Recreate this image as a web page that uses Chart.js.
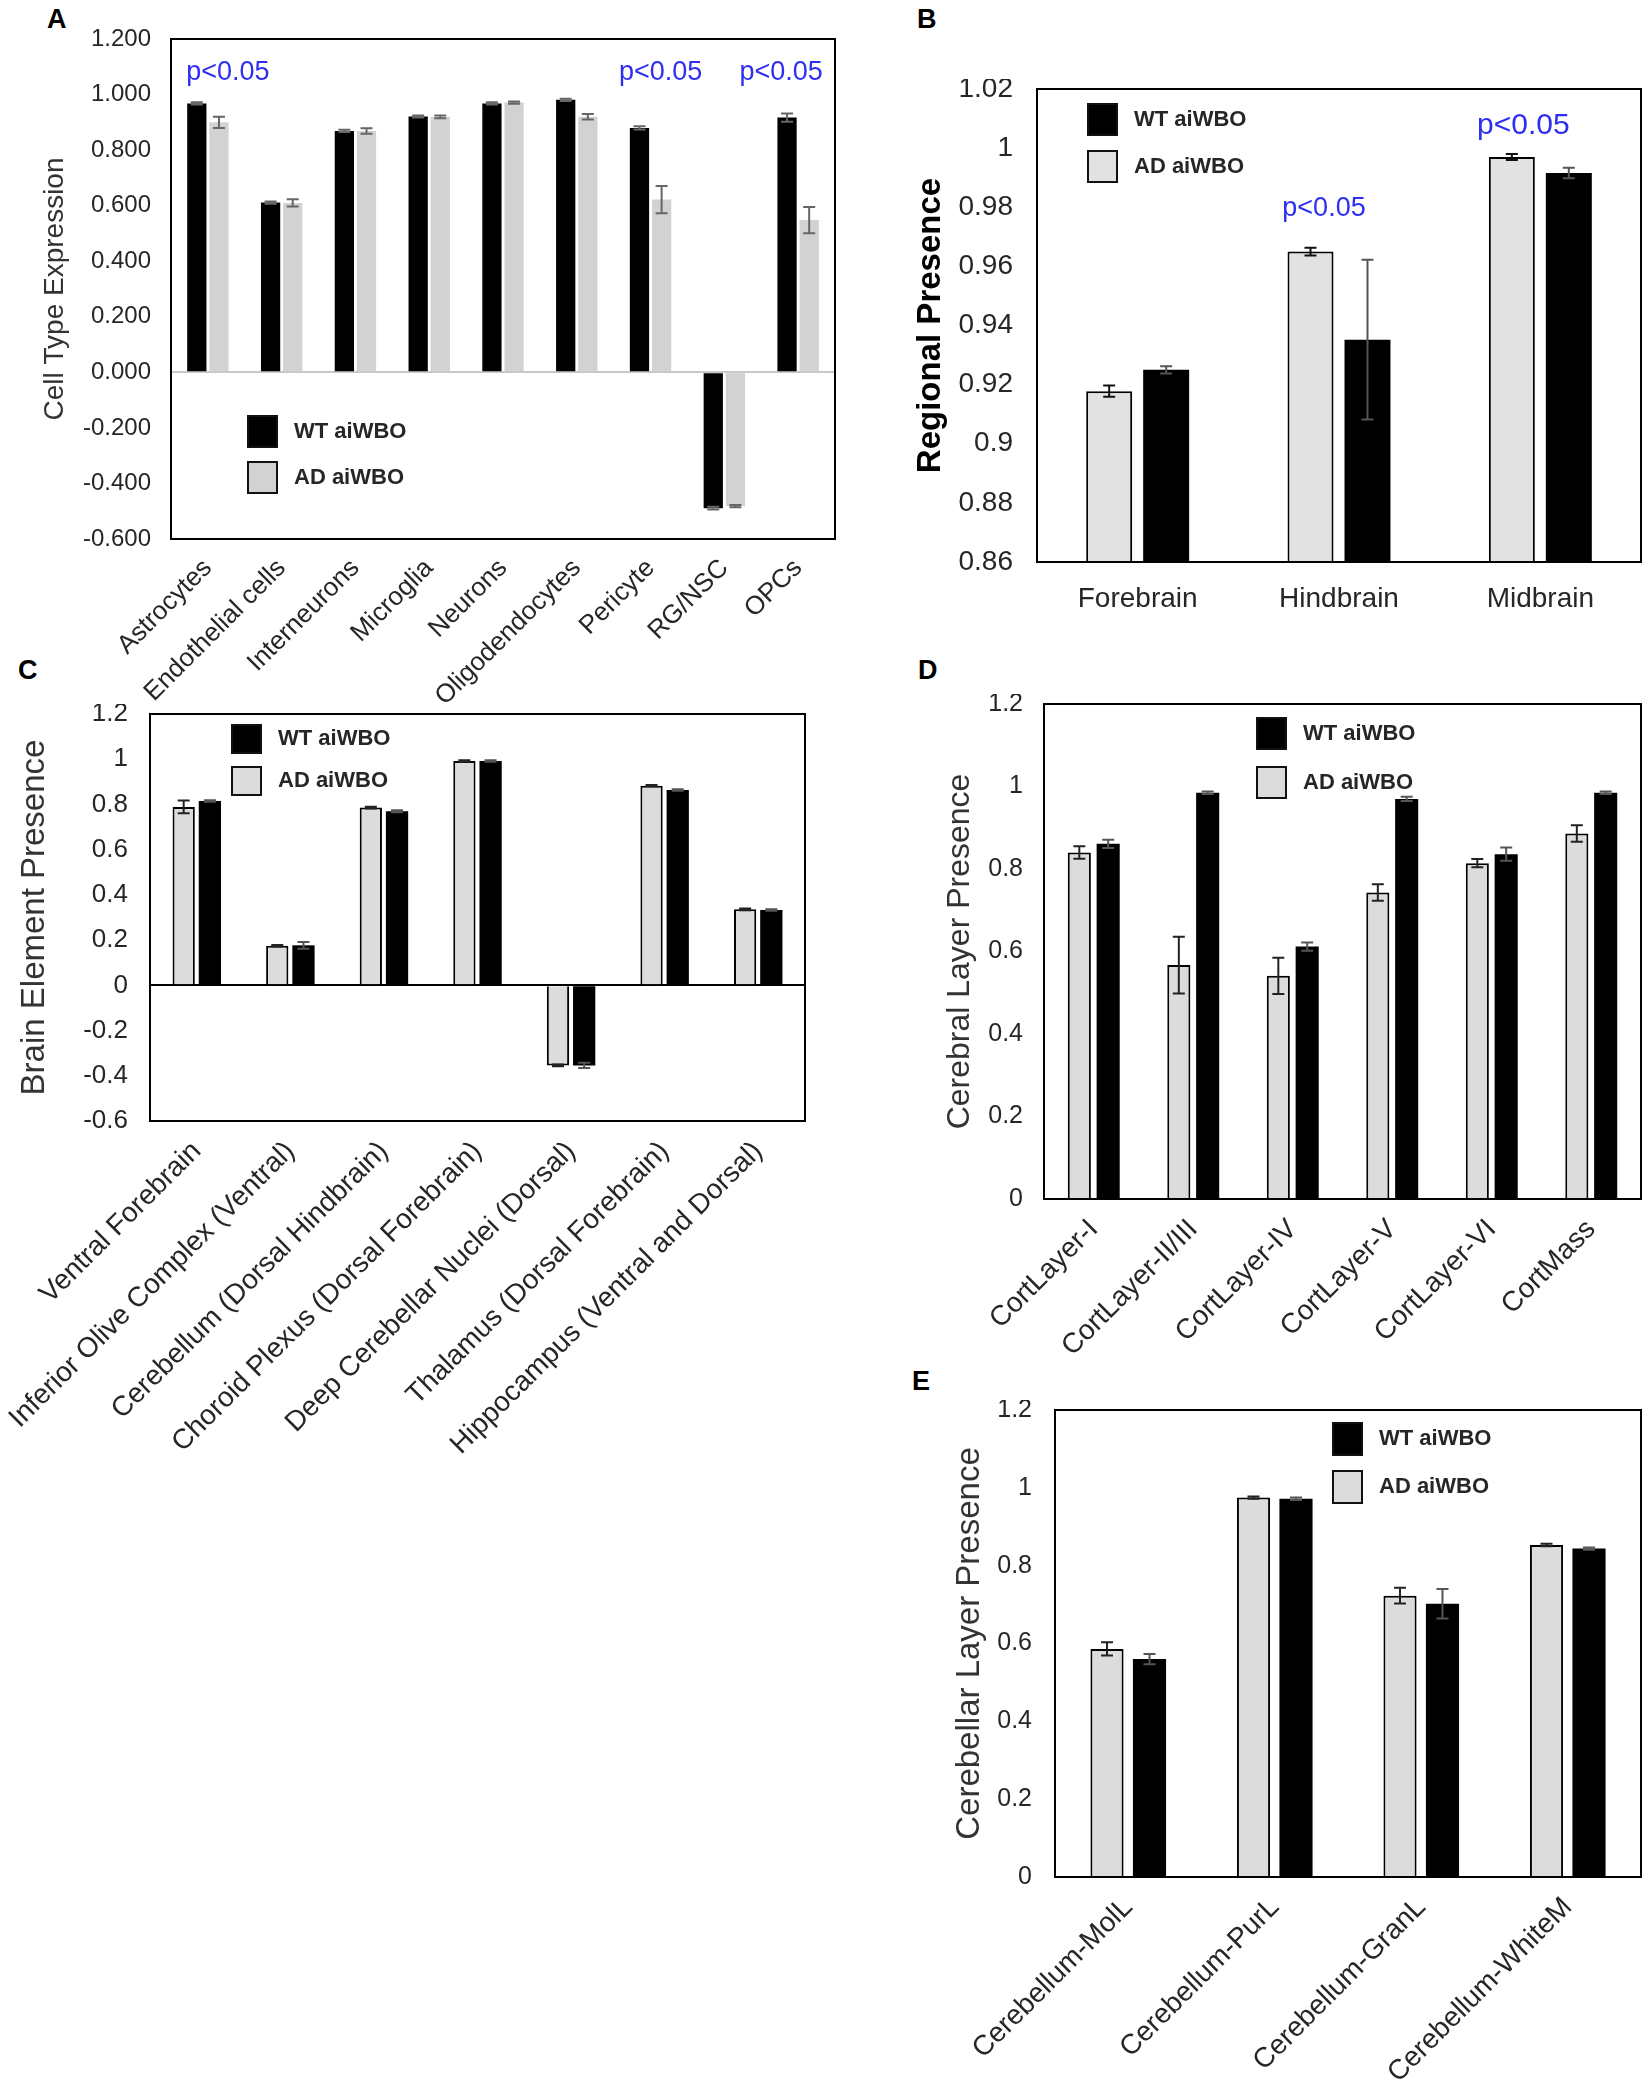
<!DOCTYPE html>
<html>
<head>
<meta charset="utf-8">
<script src="https://cdn.jsdelivr.net/npm/chart.js@4.4.1/dist/chart.umd.min.js"></script>
<style>
body { margin:0; background:#fff; width:1650px; height:2090px; position:relative; overflow:hidden; font-family:"Liberation Sans", Arial, sans-serif; }
canvas { position:absolute; }
.lt { position:absolute; font-weight:bold; font-size:27px; line-height:30px; color:#000; }
</style>
</head>
<body>
<div class="lt" style="left:47px;top:4px">A</div>
<div class="lt" style="left:917px;top:4px">B</div>
<div class="lt" style="left:18px;top:655px">C</div>
<div class="lt" style="left:918px;top:655px">D</div>
<div class="lt" style="left:912px;top:1366px">E</div>
<canvas id="cA"></canvas>
<canvas id="cB"></canvas>
<canvas id="cC"></canvas>
<canvas id="cD"></canvas>
<canvas id="cE"></canvas>
<script>
// ---- data ----
var cellTypes = ['Astrocytes', 'Endothelial cells', 'Interneurons', 'Microglia', 'Neurons', 'Oligodendocytes', 'Pericyte', 'RG/NSC', 'OPCs'];
var cellWT = [0.968, 0.611, 0.869, 0.921, 0.968, 0.981, 0.880, -0.489, 0.917];
var cellWTErr = [0.004, 0.004, 0.004, 0.004, 0.004, 0.004, 0.006, 0.005, 0.015];
var cellAD = [0.900, 0.610, 0.869, 0.920, 0.971, 0.920, 0.622, -0.482, 0.548];
var cellADErr = [0.020, 0.013, 0.010, 0.005, 0.004, 0.010, 0.049, 0.004, 0.047];
var cellTicks = [-0.6, 1.2, 0.2];

var regions = ['Forebrain', 'Hindbrain', 'Midbrain'];
var regionAD = [0.9178, 0.965, 0.997];
var regionADErr = [0.0019, 0.0013, 0.001];
var regionWT = [0.925, 0.9352, 0.9916];
var regionWTErr = [0.0012, 0.027, 0.0018];
var regionTicks = [0.86, 1.02, 0.02];

var elements = ['Ventral Forebrain', 'Inferior Olive Complex (Ventral)', 'Cerebellum (Dorsal Hindbrain)', 'Choroid Plexus (Dorsal Forebrain)', 'Deep Cerebellar Nuclei (Dorsal)', 'Thalamus (Dorsal Forebrain)', 'Hippocampus (Ventral and Dorsal)'];
var elementAD = [0.789, 0.175, 0.786, 0.992, -0.354, 0.883, 0.336];
var elementADErr = [0.028, 0.003, 0.004, 0.003, 0.004, 0.003, 0.004];
var elementWT = [0.815, 0.177, 0.770, 0.992, -0.354, 0.864, 0.333];
var elementWTErr = [0.003, 0.015, 0.004, 0.003, 0.012, 0.003, 0.003];
var elementTicks = [-0.6, 1.2, 0.2];

var layers = ['CortLayer-I', 'CortLayer-II/III', 'CortLayer-IV', 'CortLayer-V', 'CortLayer-VI', 'CortMass'];
var layerAD = [0.840, 0.567, 0.541, 0.743, 0.814, 0.886];
var layerADErr = [0.015, 0.069, 0.044, 0.020, 0.010, 0.020];
var layerWT = [0.861, 0.985, 0.612, 0.970, 0.836, 0.985];
var layerWTErr = [0.010, 0.003, 0.010, 0.005, 0.016, 0.003];
var layerTicks = [0, 1.2, 0.2];

var cereb = ['Cerebellum-MolL', 'Cerebellum-PurL', 'Cerebellum-GranL', 'Cerebellum-WhiteM'];
var cerebAD = [0.586, 0.975, 0.723, 0.853];
var cerebADErr = [0.017, 0.003, 0.020, 0.003];
var cerebWT = [0.560, 0.972, 0.702, 0.844];
var cerebWTErr = [0.013, 0.003, 0.038, 0.003];
var cerebTicks = [0, 1.2, 0.2];

// significance marks: category index and height
var pCellIdx = [0, 6, 8];
var pCellY = [1.08, 1.08, 1.08];
var pRegionIdx = [1, 2];
var pRegionY = [0.9797, 1.0077];

var FONT = '"Liberation Sans", Arial, sans-serif';
var TXT = '#262626';
var BLUE = '#2e2ef2';

Chart.defaults.font.family = FONT;
Chart.defaults.color = TXT;

// error bars drawn from each dataset's err array
var errorBars = {
  id: 'errorBars',
  afterDatasetsDraw: function (chart) {
    var ctx = chart.ctx, y = chart.scales.y;
    chart.data.datasets.forEach(function (ds, di) {
      if (!ds.err) return;
      var meta = chart.getDatasetMeta(di);
      ctx.save();
      ctx.strokeStyle = ds.errColor || '#222';
      ctx.lineWidth = ds.errWidth || 2;
      meta.data.forEach(function (bar, i) {
        var v = ds.data[i], e = ds.err[i];
        var y1 = y.getPixelForValue(v + e), y2 = y.getPixelForValue(v - e);
        var c = ds.capHalf || 6;
        ctx.beginPath();
        ctx.moveTo(bar.x, y1); ctx.lineTo(bar.x, y2);
        ctx.moveTo(bar.x - c, y1); ctx.lineTo(bar.x + c, y1);
        ctx.moveTo(bar.x - c, y2); ctx.lineTo(bar.x + c, y2);
        ctx.stroke();
      });
      ctx.restore();
    });
  }
};

// frame, inner legend and p-value notes
var decor = {
  id: 'decor',
  afterDraw: function (chart, args, o) {
    var ctx = chart.ctx, a = chart.chartArea;
    ctx.save();
    ctx.strokeStyle = '#000';
    ctx.lineWidth = 2;
    ctx.strokeRect(a.left, a.top, a.right - a.left, a.bottom - a.top);

    // legend: WT first, then AD
    ctx.font = 'bold 22px ' + FONT;
    ctx.textBaseline = 'middle';
    ctx.textAlign = 'left';
    o.order.forEach(function (di, k) {
      var ds = chart.data.datasets[di];
      var bx = a.left + o.lx, by = a.top + o.ly + k * o.lgap;
      ctx.fillStyle = ds.backgroundColor;
      ctx.fillRect(bx, by, 29, o.bh || 31);
      ctx.strokeStyle = '#111';
      ctx.lineWidth = 2;
      ctx.strokeRect(bx, by, 29, o.bh || 31);
      ctx.fillStyle = TXT;
      ctx.fillText(ds.label, bx + 46, by + (o.bh || 31) / 2);
    });

    if (o.pIdx) {
      var xs = chart.scales.x, ys = chart.scales.y;
      ctx.fillStyle = BLUE;
      ctx.textAlign = 'center';
      ctx.textBaseline = 'middle';
      o.pIdx.forEach(function (ci, k) {
        ctx.font = o.pSize[k] + 'px ' + FONT;
        ctx.fillText('p<0.05', xs.getPixelForValue(ci) + o.pDx[k], ys.getPixelForValue(o.pY[k]));
      });
    }
    ctx.restore();
  }
};

function fmt(dec) {
  return function (v) {
    if (Math.abs(v) < 1e-9) v = 0;
    return dec === null ? String(+v.toFixed(2)) : v.toFixed(dec);
  };
}

function panel(id, box, o) {
  var cv = document.getElementById(id);
  var w = box.R - box.L + o.yw + o.pr;
  var h = box.B - box.T + o.pt + o.xh;
  cv.width = w; cv.height = h;
  cv.style.left = (box.L - o.yw) + 'px';
  cv.style.top = (box.T - o.pt) + 'px';
  cv.style.width = w + 'px';
  cv.style.height = h + 'px';
  var lh = o.titleSize * 1.2;
  return new Chart(cv, {
    type: 'bar',
    data: { labels: o.labels, datasets: o.datasets },
    options: {
      responsive: false,
      animation: false,
      devicePixelRatio: 1,
      layout: { padding: { top: o.pt, right: o.pr, left: 0, bottom: 0 } },
      datasets: { bar: { categoryPercentage: o.cat, barPercentage: o.barp } },
      plugins: {
        legend: { display: false },
        tooltip: { enabled: false },
        decor: o.decor
      },
      scales: {
        x: {
          grid: { display: false },
          border: { display: false },
          ticks: {
            autoSkip: false,
            minRotation: o.rot, maxRotation: o.rot,
            padding: o.xpad,
            color: TXT,
            font: { size: o.xSize }
          },
          afterFit: function (s) { s.height = o.xh; s.paddingLeft = 0; s.paddingRight = 0; }
        },
        y: {
          min: o.ticks[0], max: o.ticks[1],
          ticks: { stepSize: o.ticks[2], padding: o.ypad, color: TXT, font: { size: o.ySize }, callback: fmt(o.dec) },
          grid: {
            drawTicks: false,
            lineWidth: 2,
            color: function (c) { return c.tick && Math.abs(c.tick.value) < 1e-9 ? o.zero : 'rgba(0,0,0,0)'; }
          },
          border: { display: false },
          title: {
            display: true,
            text: o.title,
            color: o.titleColor || '#333',
            font: { size: o.titleSize, weight: o.titleBold ? 'bold' : 'normal' },
            padding: { top: o.yw - o.tOff - lh / 2, bottom: 0 }
          },
          afterFit: function (s) { s.width = o.yw; s.paddingTop = 0; s.paddingBottom = 0; }
        }
      }
    },
    plugins: [errorBars, decor]
  });
}

var WT = '#000000', ADC = '#dcdcdc';

// A
panel('cA', { L: 171, R: 835, T: 39, B: 539 }, {
  labels: cellTypes,
  datasets: [
    { label: 'WT aiWBO', data: cellWT, err: cellWTErr, backgroundColor: WT, borderWidth: 0, errColor: '#666' },
    { label: 'AD aiWBO', data: cellAD, err: cellADErr, backgroundColor: '#d2d2d2', borderWidth: 0, errColor: '#666' }
  ],
  ticks: cellTicks, dec: 3, ySize: 24, xSize: 26, rot: 45, xpad: 6, ypad: 20,
  title: 'Cell Type Expression', titleSize: 28, tOff: 116,
  yw: 140, pr: 10, pt: 20, xh: 200, cat: 0.6, barp: 0.87, zero: '#c8c8c8',
  decor: { order: [0, 1], lx: 77, ly: 377, lgap: 46, pIdx: pCellIdx, pY: pCellY, pDx: [20, 10, -17], pSize: [27, 27, 27] }
});

// B
panel('cB', { L: 1037, R: 1641, T: 89, B: 562 }, {
  labels: regions,
  datasets: [
    { label: 'AD aiWBO', data: regionAD, err: regionADErr, backgroundColor: '#e2e2e2', borderColor: '#000', borderWidth: 2, errColor: '#111' },
    { label: 'WT aiWBO', data: regionWT, err: regionWTErr, backgroundColor: WT, borderWidth: 0, errColor: '#555' }
  ],
  ticks: regionTicks, dec: null, ySize: 28, xSize: 28, rot: 0, xpad: 12, ypad: 24,
  title: 'Regional Presence', titleSize: 33, titleBold: true, titleColor: '#000', tOff: 106,
  yw: 135, pr: 6, pt: 10, xh: 70, cat: 0.566, barp: 0.807, zero: 'rgba(0,0,0,0)',
  decor: { order: [1, 0], lx: 51, ly: 15, lgap: 47, pIdx: pRegionIdx, pY: pRegionY, pDx: [-15, -17], pSize: [27, 30] }
});

// C
panel('cC', { L: 150, R: 805, T: 714, B: 1121 }, {
  labels: elements,
  datasets: [
    { label: 'AD aiWBO', data: elementAD, err: elementADErr, backgroundColor: ADC, borderColor: '#000', borderWidth: 2, errColor: '#222' },
    { label: 'WT aiWBO', data: elementWT, err: elementWTErr, backgroundColor: WT, borderWidth: 0, errColor: '#555' }
  ],
  ticks: elementTicks, dec: null, ySize: 26, xSize: 28, rot: 45, xpad: 6, ypad: 22,
  title: 'Brain Element Presence', titleSize: 33, tOff: 115,
  yw: 150, pr: 10, pt: 10, xh: 370, cat: 0.56, barp: 0.85, zero: '#000',
  decor: { order: [1, 0], lx: 82, ly: 11, lgap: 42, bh: 28 }
});

// D
panel('cD', { L: 1044, R: 1641, T: 704, B: 1199 }, {
  labels: layers,
  datasets: [
    { label: 'AD aiWBO', data: layerAD, err: layerADErr, backgroundColor: ADC, borderColor: '#000', borderWidth: 2, errColor: '#222' },
    { label: 'WT aiWBO', data: layerWT, err: layerWTErr, backgroundColor: WT, borderWidth: 0, errColor: '#555' }
  ],
  ticks: layerTicks, dec: null, ySize: 25, xSize: 28, rot: 45, xpad: 6, ypad: 21,
  title: 'Cerebral Layer Presence', titleSize: 32, tOff: 84,
  yw: 115, pr: 6, pt: 10, xh: 210, cat: 0.58, barp: 0.8, zero: 'rgba(0,0,0,0)',
  decor: { order: [1, 0], lx: 213, ly: 14, lgap: 49 }
});

// E
panel('cE', { L: 1055, R: 1641, T: 1410, B: 1877 }, {
  labels: cereb,
  datasets: [
    { label: 'AD aiWBO', data: cerebAD, err: cerebADErr, backgroundColor: ADC, borderColor: '#000', borderWidth: 2, errColor: '#222' },
    { label: 'WT aiWBO', data: cerebWT, err: cerebWTErr, backgroundColor: WT, borderWidth: 0, errColor: '#555' }
  ],
  ticks: cerebTicks, dec: null, ySize: 25, xSize: 28, rot: 45, xpad: 6, ypad: 23,
  title: 'Cerebellar Layer Presence', titleSize: 33, tOff: 85,
  yw: 115, pr: 6, pt: 10, xh: 205, cat: 0.58, barp: 0.78, zero: 'rgba(0,0,0,0)',
  decor: { order: [1, 0], lx: 278, ly: 13, lgap: 48, bh: 32 }
});
</script>
</body>
</html>
